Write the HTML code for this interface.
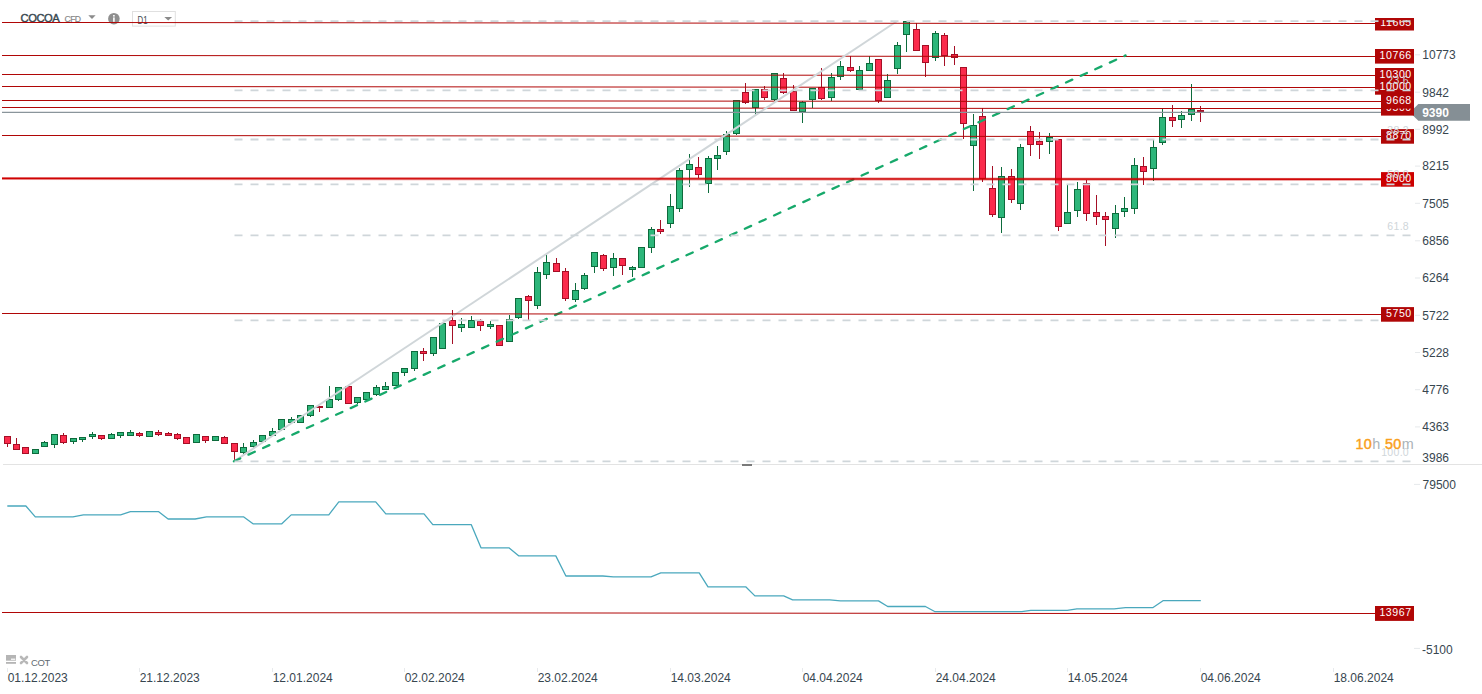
<!DOCTYPE html><html><head><meta charset="utf-8"><style>html,body{margin:0;padding:0;background:#fff;overflow:hidden}</style></head><body><svg width="1482" height="694" viewBox="0 0 1482 694" style="display:block;font-family:'Liberation Sans', sans-serif">
<defs><clipPath id="topclip"><rect x="0" y="20" width="1482" height="460"/></clipPath><clipPath id="boxclip"><rect x="0" y="18" width="1482" height="460"/></clipPath><linearGradient id="fo" gradientUnits="userSpaceOnUse" x1="88" y1="0" x2="1118" y2="0"><stop offset="0" stop-color="#b00606" stop-opacity="1"/><stop offset="1" stop-color="#b00606" stop-opacity="0"/></linearGradient><linearGradient id="fi" gradientUnits="userSpaceOnUse" x1="88" y1="0" x2="1118" y2="0"><stop offset="0" stop-color="#b00606" stop-opacity="0"/><stop offset="1" stop-color="#b00606" stop-opacity="1"/></linearGradient></defs>
<rect x="0" y="0" width="1482" height="694" fill="#ffffff"/>
<rect x="3" y="464" width="1479" height="1" fill="#e3e3e3"/>
<rect x="742" y="464" width="10" height="2" fill="#7a7a7a"/>
<rect x="7.0" y="444" width="1" height="3" fill="#a50f26"/>
<rect x="4.0" y="436" width="7" height="8" fill="#a50f26"/>
<rect x="5.0" y="437" width="5" height="6" fill="#fb2b4c"/>
<rect x="16.0" y="438" width="1" height="6" fill="#a50f26"/>
<rect x="13.0" y="444" width="7" height="6" fill="#a50f26"/>
<rect x="14.0" y="445" width="5" height="4" fill="#fb2b4c"/>
<rect x="22.0" y="447" width="7" height="7" fill="#a50f26"/>
<rect x="23.0" y="448" width="5" height="5" fill="#fb2b4c"/>
<rect x="32.0" y="449" width="7" height="5" fill="#0d6b3c"/>
<rect x="33.0" y="450" width="5" height="3" fill="#2db67a"/>
<rect x="44.0" y="441" width="1" height="1" fill="#0d6b3c"/>
<rect x="41.0" y="442" width="7" height="5" fill="#0d6b3c"/>
<rect x="42.0" y="443" width="5" height="3" fill="#2db67a"/>
<rect x="54.0" y="445" width="1" height="3" fill="#0d6b3c"/>
<rect x="51.0" y="434" width="7" height="11" fill="#0d6b3c"/>
<rect x="52.0" y="435" width="5" height="9" fill="#2db67a"/>
<rect x="63.0" y="433" width="1" height="2" fill="#a50f26"/>
<rect x="63.0" y="443" width="1" height="1" fill="#a50f26"/>
<rect x="60.0" y="435" width="7" height="8" fill="#a50f26"/>
<rect x="61.0" y="436" width="5" height="6" fill="#fb2b4c"/>
<rect x="73.0" y="442" width="1" height="2" fill="#0d6b3c"/>
<rect x="70.0" y="438" width="7" height="4" fill="#0d6b3c"/>
<rect x="71.0" y="439" width="5" height="2" fill="#2db67a"/>
<rect x="82.0" y="440" width="1" height="2" fill="#0d6b3c"/>
<rect x="79.0" y="437" width="7" height="3" fill="#0d6b3c"/>
<rect x="80.0" y="438" width="5" height="1" fill="#2db67a"/>
<rect x="92.0" y="432" width="1" height="2" fill="#0d6b3c"/>
<rect x="92.0" y="437" width="1" height="2" fill="#0d6b3c"/>
<rect x="89.0" y="434" width="7" height="3" fill="#0d6b3c"/>
<rect x="90.0" y="435" width="5" height="1" fill="#2db67a"/>
<rect x="101.0" y="439" width="1" height="1" fill="#a50f26"/>
<rect x="98.0" y="435" width="7" height="4" fill="#a50f26"/>
<rect x="99.0" y="436" width="5" height="2" fill="#fb2b4c"/>
<rect x="111.0" y="433" width="1" height="1" fill="#0d6b3c"/>
<rect x="108.0" y="434" width="7" height="5" fill="#0d6b3c"/>
<rect x="109.0" y="435" width="5" height="3" fill="#2db67a"/>
<rect x="120.0" y="436" width="1" height="2" fill="#0d6b3c"/>
<rect x="117.0" y="432" width="7" height="4" fill="#0d6b3c"/>
<rect x="118.0" y="433" width="5" height="2" fill="#2db67a"/>
<rect x="130.0" y="430" width="1" height="2" fill="#0d6b3c"/>
<rect x="127.0" y="432" width="7" height="4" fill="#0d6b3c"/>
<rect x="128.0" y="433" width="5" height="2" fill="#2db67a"/>
<rect x="139.0" y="432" width="1" height="1" fill="#a50f26"/>
<rect x="139.0" y="436" width="1" height="1" fill="#a50f26"/>
<rect x="136.0" y="433" width="7" height="3" fill="#a50f26"/>
<rect x="137.0" y="434" width="5" height="1" fill="#fb2b4c"/>
<rect x="146.0" y="431" width="7" height="6" fill="#0d6b3c"/>
<rect x="147.0" y="432" width="5" height="4" fill="#2db67a"/>
<rect x="158.0" y="430" width="1" height="2" fill="#a50f26"/>
<rect x="158.0" y="435" width="1" height="1" fill="#a50f26"/>
<rect x="155.0" y="432" width="7" height="3" fill="#a50f26"/>
<rect x="156.0" y="433" width="5" height="1" fill="#fb2b4c"/>
<rect x="168.0" y="432" width="1" height="1" fill="#a50f26"/>
<rect x="165.0" y="433" width="7" height="3" fill="#a50f26"/>
<rect x="166.0" y="434" width="5" height="1" fill="#fb2b4c"/>
<rect x="177.0" y="433" width="1" height="1" fill="#a50f26"/>
<rect x="177.0" y="439" width="1" height="1" fill="#a50f26"/>
<rect x="174.0" y="434" width="7" height="5" fill="#a50f26"/>
<rect x="175.0" y="435" width="5" height="3" fill="#fb2b4c"/>
<rect x="183.0" y="437" width="7" height="7" fill="#a50f26"/>
<rect x="184.0" y="438" width="5" height="5" fill="#fb2b4c"/>
<rect x="193.0" y="434" width="7" height="9" fill="#0d6b3c"/>
<rect x="194.0" y="435" width="5" height="7" fill="#2db67a"/>
<rect x="205.0" y="441" width="1" height="2" fill="#a50f26"/>
<rect x="202.0" y="436" width="7" height="5" fill="#a50f26"/>
<rect x="203.0" y="437" width="5" height="3" fill="#fb2b4c"/>
<rect x="212.0" y="436" width="7" height="5" fill="#0d6b3c"/>
<rect x="213.0" y="437" width="5" height="3" fill="#2db67a"/>
<rect x="224.0" y="436" width="1" height="1" fill="#a50f26"/>
<rect x="221.0" y="437" width="7" height="7" fill="#a50f26"/>
<rect x="222.0" y="438" width="5" height="5" fill="#fb2b4c"/>
<rect x="234.0" y="452" width="1" height="8" fill="#a50f26"/>
<rect x="231.0" y="443" width="7" height="9" fill="#a50f26"/>
<rect x="232.0" y="444" width="5" height="7" fill="#fb2b4c"/>
<rect x="243.0" y="443" width="1" height="4" fill="#0d6b3c"/>
<rect x="243.0" y="453" width="1" height="1" fill="#0d6b3c"/>
<rect x="240.0" y="447" width="7" height="6" fill="#0d6b3c"/>
<rect x="241.0" y="448" width="5" height="4" fill="#2db67a"/>
<rect x="253.0" y="440" width="1" height="2" fill="#0d6b3c"/>
<rect x="253.0" y="447" width="1" height="1" fill="#0d6b3c"/>
<rect x="250.0" y="442" width="7" height="5" fill="#0d6b3c"/>
<rect x="251.0" y="443" width="5" height="3" fill="#2db67a"/>
<rect x="259.0" y="435" width="7" height="7" fill="#0d6b3c"/>
<rect x="260.0" y="436" width="5" height="5" fill="#2db67a"/>
<rect x="272.0" y="428" width="1" height="3" fill="#0d6b3c"/>
<rect x="269.0" y="431" width="7" height="5" fill="#0d6b3c"/>
<rect x="270.0" y="432" width="5" height="3" fill="#2db67a"/>
<rect x="281.0" y="430" width="1" height="1" fill="#0d6b3c"/>
<rect x="278.0" y="419" width="7" height="11" fill="#0d6b3c"/>
<rect x="279.0" y="420" width="5" height="9" fill="#2db67a"/>
<rect x="291.0" y="417" width="1" height="2" fill="#0d6b3c"/>
<rect x="288.0" y="419" width="7" height="4" fill="#0d6b3c"/>
<rect x="289.0" y="420" width="5" height="2" fill="#2db67a"/>
<rect x="297.0" y="415" width="7" height="8" fill="#0d6b3c"/>
<rect x="298.0" y="416" width="5" height="6" fill="#2db67a"/>
<rect x="310.0" y="416" width="1" height="1" fill="#0d6b3c"/>
<rect x="307.0" y="405" width="7" height="11" fill="#0d6b3c"/>
<rect x="308.0" y="406" width="5" height="9" fill="#2db67a"/>
<rect x="319.0" y="408" width="1" height="4" fill="#a50f26"/>
<rect x="316.0" y="406" width="7" height="2" fill="#a50f26"/>
<rect x="329.0" y="386" width="1" height="13" fill="#0d6b3c"/>
<rect x="326.0" y="399" width="7" height="9" fill="#0d6b3c"/>
<rect x="327.0" y="400" width="5" height="7" fill="#2db67a"/>
<rect x="338.0" y="400" width="1" height="1" fill="#0d6b3c"/>
<rect x="335.0" y="387" width="7" height="13" fill="#0d6b3c"/>
<rect x="336.0" y="388" width="5" height="11" fill="#2db67a"/>
<rect x="345.0" y="386" width="7" height="18" fill="#a50f26"/>
<rect x="346.0" y="387" width="5" height="16" fill="#fb2b4c"/>
<rect x="357.0" y="403" width="1" height="1" fill="#0d6b3c"/>
<rect x="354.0" y="397" width="7" height="6" fill="#0d6b3c"/>
<rect x="355.0" y="398" width="5" height="4" fill="#2db67a"/>
<rect x="363.0" y="392" width="7" height="8" fill="#0d6b3c"/>
<rect x="364.0" y="393" width="5" height="6" fill="#2db67a"/>
<rect x="376.0" y="385" width="1" height="2" fill="#0d6b3c"/>
<rect x="376.0" y="395" width="1" height="1" fill="#0d6b3c"/>
<rect x="373.0" y="387" width="7" height="8" fill="#0d6b3c"/>
<rect x="374.0" y="388" width="5" height="6" fill="#2db67a"/>
<rect x="385.0" y="382" width="1" height="4" fill="#0d6b3c"/>
<rect x="382.0" y="386" width="7" height="4" fill="#0d6b3c"/>
<rect x="383.0" y="387" width="5" height="2" fill="#2db67a"/>
<rect x="392.0" y="372" width="7" height="14" fill="#0d6b3c"/>
<rect x="393.0" y="373" width="5" height="12" fill="#2db67a"/>
<rect x="404.0" y="373" width="1" height="3" fill="#0d6b3c"/>
<rect x="401.0" y="368" width="7" height="5" fill="#0d6b3c"/>
<rect x="402.0" y="369" width="5" height="3" fill="#2db67a"/>
<rect x="414.0" y="369" width="1" height="2" fill="#0d6b3c"/>
<rect x="411.0" y="351" width="7" height="18" fill="#0d6b3c"/>
<rect x="412.0" y="352" width="5" height="16" fill="#2db67a"/>
<rect x="423.0" y="348" width="1" height="3" fill="#a50f26"/>
<rect x="423.0" y="354" width="1" height="7" fill="#a50f26"/>
<rect x="420.0" y="351" width="7" height="3" fill="#a50f26"/>
<rect x="421.0" y="352" width="5" height="1" fill="#fb2b4c"/>
<rect x="433.0" y="354" width="1" height="2" fill="#0d6b3c"/>
<rect x="430.0" y="337" width="7" height="17" fill="#0d6b3c"/>
<rect x="431.0" y="338" width="5" height="15" fill="#2db67a"/>
<rect x="439.0" y="323" width="7" height="26" fill="#0d6b3c"/>
<rect x="440.0" y="324" width="5" height="24" fill="#2db67a"/>
<rect x="452.0" y="310" width="1" height="10" fill="#a50f26"/>
<rect x="452.0" y="326" width="1" height="18" fill="#a50f26"/>
<rect x="449.0" y="320" width="7" height="6" fill="#a50f26"/>
<rect x="450.0" y="321" width="5" height="4" fill="#fb2b4c"/>
<rect x="461.0" y="318" width="1" height="6" fill="#0d6b3c"/>
<rect x="461.0" y="328" width="1" height="4" fill="#0d6b3c"/>
<rect x="458.0" y="324" width="7" height="4" fill="#0d6b3c"/>
<rect x="459.0" y="325" width="5" height="2" fill="#2db67a"/>
<rect x="471.0" y="316" width="1" height="4" fill="#0d6b3c"/>
<rect x="468.0" y="320" width="7" height="8" fill="#0d6b3c"/>
<rect x="469.0" y="321" width="5" height="6" fill="#2db67a"/>
<rect x="480.0" y="319" width="1" height="2" fill="#a50f26"/>
<rect x="480.0" y="326" width="1" height="5" fill="#a50f26"/>
<rect x="477.0" y="321" width="7" height="5" fill="#a50f26"/>
<rect x="478.0" y="322" width="5" height="3" fill="#fb2b4c"/>
<rect x="490.0" y="321" width="1" height="3" fill="#0d6b3c"/>
<rect x="490.0" y="327" width="1" height="2" fill="#0d6b3c"/>
<rect x="487.0" y="324" width="7" height="3" fill="#0d6b3c"/>
<rect x="488.0" y="325" width="5" height="1" fill="#2db67a"/>
<rect x="496.0" y="325" width="7" height="21" fill="#a50f26"/>
<rect x="497.0" y="326" width="5" height="19" fill="#fb2b4c"/>
<rect x="509.0" y="315" width="1" height="4" fill="#0d6b3c"/>
<rect x="506.0" y="319" width="7" height="23" fill="#0d6b3c"/>
<rect x="507.0" y="320" width="5" height="21" fill="#2db67a"/>
<rect x="518.0" y="318" width="1" height="1" fill="#0d6b3c"/>
<rect x="515.0" y="298" width="7" height="20" fill="#0d6b3c"/>
<rect x="516.0" y="299" width="5" height="18" fill="#2db67a"/>
<rect x="528.0" y="295" width="1" height="1" fill="#a50f26"/>
<rect x="528.0" y="301" width="1" height="19" fill="#a50f26"/>
<rect x="525.0" y="296" width="7" height="5" fill="#a50f26"/>
<rect x="526.0" y="297" width="5" height="3" fill="#fb2b4c"/>
<rect x="537.0" y="267" width="1" height="5" fill="#0d6b3c"/>
<rect x="537.0" y="306" width="1" height="3" fill="#0d6b3c"/>
<rect x="534.0" y="272" width="7" height="34" fill="#0d6b3c"/>
<rect x="535.0" y="273" width="5" height="32" fill="#2db67a"/>
<rect x="546.0" y="255" width="1" height="7" fill="#0d6b3c"/>
<rect x="546.0" y="275" width="1" height="4" fill="#0d6b3c"/>
<rect x="543.0" y="262" width="7" height="13" fill="#0d6b3c"/>
<rect x="544.0" y="263" width="5" height="11" fill="#2db67a"/>
<rect x="556.0" y="258" width="1" height="5" fill="#a50f26"/>
<rect x="553.0" y="263" width="7" height="9" fill="#a50f26"/>
<rect x="554.0" y="264" width="5" height="7" fill="#fb2b4c"/>
<rect x="565.0" y="268" width="1" height="3" fill="#a50f26"/>
<rect x="565.0" y="299" width="1" height="2" fill="#a50f26"/>
<rect x="562.0" y="271" width="7" height="28" fill="#a50f26"/>
<rect x="563.0" y="272" width="5" height="26" fill="#fb2b4c"/>
<rect x="575.0" y="283" width="1" height="7" fill="#0d6b3c"/>
<rect x="575.0" y="300" width="1" height="2" fill="#0d6b3c"/>
<rect x="572.0" y="290" width="7" height="10" fill="#0d6b3c"/>
<rect x="573.0" y="291" width="5" height="8" fill="#2db67a"/>
<rect x="584.0" y="273" width="1" height="2" fill="#0d6b3c"/>
<rect x="584.0" y="289" width="1" height="1" fill="#0d6b3c"/>
<rect x="581.0" y="275" width="7" height="14" fill="#0d6b3c"/>
<rect x="582.0" y="276" width="5" height="12" fill="#2db67a"/>
<rect x="594.0" y="267" width="1" height="6" fill="#0d6b3c"/>
<rect x="591.0" y="252" width="7" height="15" fill="#0d6b3c"/>
<rect x="592.0" y="253" width="5" height="13" fill="#2db67a"/>
<rect x="603.0" y="254" width="1" height="1" fill="#a50f26"/>
<rect x="603.0" y="269" width="1" height="2" fill="#a50f26"/>
<rect x="600.0" y="255" width="7" height="14" fill="#a50f26"/>
<rect x="601.0" y="256" width="5" height="12" fill="#fb2b4c"/>
<rect x="613.0" y="253" width="1" height="5" fill="#0d6b3c"/>
<rect x="613.0" y="268" width="1" height="8" fill="#0d6b3c"/>
<rect x="610.0" y="258" width="7" height="10" fill="#0d6b3c"/>
<rect x="611.0" y="259" width="5" height="8" fill="#2db67a"/>
<rect x="622.0" y="266" width="1" height="9" fill="#a50f26"/>
<rect x="619.0" y="258" width="7" height="8" fill="#a50f26"/>
<rect x="620.0" y="259" width="5" height="6" fill="#fb2b4c"/>
<rect x="632.0" y="266" width="1" height="1" fill="#0d6b3c"/>
<rect x="632.0" y="270" width="1" height="7" fill="#0d6b3c"/>
<rect x="629.0" y="267" width="7" height="3" fill="#0d6b3c"/>
<rect x="630.0" y="268" width="5" height="1" fill="#2db67a"/>
<rect x="638.0" y="247" width="7" height="21" fill="#0d6b3c"/>
<rect x="639.0" y="248" width="5" height="19" fill="#2db67a"/>
<rect x="651.0" y="227" width="1" height="2" fill="#0d6b3c"/>
<rect x="651.0" y="248" width="1" height="5" fill="#0d6b3c"/>
<rect x="648.0" y="229" width="7" height="19" fill="#0d6b3c"/>
<rect x="649.0" y="230" width="5" height="17" fill="#2db67a"/>
<rect x="660.0" y="220" width="1" height="9" fill="#a50f26"/>
<rect x="660.0" y="232" width="1" height="2" fill="#a50f26"/>
<rect x="657.0" y="229" width="7" height="3" fill="#a50f26"/>
<rect x="658.0" y="230" width="5" height="1" fill="#fb2b4c"/>
<rect x="670.0" y="194" width="1" height="12" fill="#0d6b3c"/>
<rect x="670.0" y="224" width="1" height="4" fill="#0d6b3c"/>
<rect x="667.0" y="206" width="7" height="18" fill="#0d6b3c"/>
<rect x="668.0" y="207" width="5" height="16" fill="#2db67a"/>
<rect x="679.0" y="168" width="1" height="2" fill="#0d6b3c"/>
<rect x="679.0" y="209" width="1" height="3" fill="#0d6b3c"/>
<rect x="676.0" y="170" width="7" height="39" fill="#0d6b3c"/>
<rect x="677.0" y="171" width="5" height="37" fill="#2db67a"/>
<rect x="689.0" y="154" width="1" height="10" fill="#0d6b3c"/>
<rect x="689.0" y="170" width="1" height="17" fill="#0d6b3c"/>
<rect x="686.0" y="164" width="7" height="6" fill="#0d6b3c"/>
<rect x="687.0" y="165" width="5" height="4" fill="#2db67a"/>
<rect x="698.0" y="157" width="1" height="10" fill="#a50f26"/>
<rect x="698.0" y="175" width="1" height="3" fill="#a50f26"/>
<rect x="695.0" y="167" width="7" height="8" fill="#a50f26"/>
<rect x="696.0" y="168" width="5" height="6" fill="#fb2b4c"/>
<rect x="708.0" y="156" width="1" height="2" fill="#0d6b3c"/>
<rect x="708.0" y="184" width="1" height="9" fill="#0d6b3c"/>
<rect x="705.0" y="158" width="7" height="26" fill="#0d6b3c"/>
<rect x="706.0" y="159" width="5" height="24" fill="#2db67a"/>
<rect x="717.0" y="146" width="1" height="9" fill="#0d6b3c"/>
<rect x="717.0" y="159" width="1" height="11" fill="#0d6b3c"/>
<rect x="714.0" y="155" width="7" height="4" fill="#0d6b3c"/>
<rect x="715.0" y="156" width="5" height="2" fill="#2db67a"/>
<rect x="726.0" y="131" width="1" height="3" fill="#0d6b3c"/>
<rect x="726.0" y="152" width="1" height="3" fill="#0d6b3c"/>
<rect x="723.0" y="134" width="7" height="18" fill="#0d6b3c"/>
<rect x="724.0" y="135" width="5" height="16" fill="#2db67a"/>
<rect x="736.0" y="134" width="1" height="1" fill="#0d6b3c"/>
<rect x="733.0" y="100" width="7" height="34" fill="#0d6b3c"/>
<rect x="734.0" y="101" width="5" height="32" fill="#2db67a"/>
<rect x="745.0" y="83" width="1" height="9" fill="#a50f26"/>
<rect x="745.0" y="103" width="1" height="1" fill="#a50f26"/>
<rect x="742.0" y="92" width="7" height="11" fill="#a50f26"/>
<rect x="743.0" y="93" width="5" height="9" fill="#fb2b4c"/>
<rect x="755.0" y="108" width="1" height="7" fill="#0d6b3c"/>
<rect x="752.0" y="89" width="7" height="19" fill="#0d6b3c"/>
<rect x="753.0" y="90" width="5" height="17" fill="#2db67a"/>
<rect x="764.0" y="86" width="1" height="3" fill="#a50f26"/>
<rect x="764.0" y="98" width="1" height="2" fill="#a50f26"/>
<rect x="761.0" y="89" width="7" height="9" fill="#a50f26"/>
<rect x="762.0" y="90" width="5" height="7" fill="#fb2b4c"/>
<rect x="774.0" y="100" width="1" height="1" fill="#0d6b3c"/>
<rect x="771.0" y="73" width="7" height="27" fill="#0d6b3c"/>
<rect x="772.0" y="74" width="5" height="25" fill="#2db67a"/>
<rect x="783.0" y="73" width="1" height="5" fill="#a50f26"/>
<rect x="783.0" y="93" width="1" height="1" fill="#a50f26"/>
<rect x="780.0" y="78" width="7" height="15" fill="#a50f26"/>
<rect x="781.0" y="79" width="5" height="13" fill="#fb2b4c"/>
<rect x="793.0" y="85" width="1" height="6" fill="#a50f26"/>
<rect x="790.0" y="91" width="7" height="20" fill="#a50f26"/>
<rect x="791.0" y="92" width="5" height="18" fill="#fb2b4c"/>
<rect x="802.0" y="101" width="1" height="1" fill="#0d6b3c"/>
<rect x="802.0" y="112" width="1" height="11" fill="#0d6b3c"/>
<rect x="799.0" y="102" width="7" height="10" fill="#0d6b3c"/>
<rect x="800.0" y="103" width="5" height="8" fill="#2db67a"/>
<rect x="812.0" y="100" width="1" height="8" fill="#0d6b3c"/>
<rect x="809.0" y="88" width="7" height="12" fill="#0d6b3c"/>
<rect x="810.0" y="89" width="5" height="10" fill="#2db67a"/>
<rect x="821.0" y="68" width="1" height="19" fill="#a50f26"/>
<rect x="821.0" y="99" width="1" height="1" fill="#a50f26"/>
<rect x="818.0" y="87" width="7" height="12" fill="#a50f26"/>
<rect x="819.0" y="88" width="5" height="10" fill="#fb2b4c"/>
<rect x="831.0" y="73" width="1" height="4" fill="#0d6b3c"/>
<rect x="831.0" y="98" width="1" height="3" fill="#0d6b3c"/>
<rect x="828.0" y="77" width="7" height="21" fill="#0d6b3c"/>
<rect x="829.0" y="78" width="5" height="19" fill="#2db67a"/>
<rect x="840.0" y="61" width="1" height="5" fill="#0d6b3c"/>
<rect x="840.0" y="77" width="1" height="3" fill="#0d6b3c"/>
<rect x="837.0" y="66" width="7" height="11" fill="#0d6b3c"/>
<rect x="838.0" y="67" width="5" height="9" fill="#2db67a"/>
<rect x="850.0" y="56" width="1" height="11" fill="#a50f26"/>
<rect x="850.0" y="71" width="1" height="1" fill="#a50f26"/>
<rect x="847.0" y="67" width="7" height="4" fill="#a50f26"/>
<rect x="848.0" y="68" width="5" height="2" fill="#fb2b4c"/>
<rect x="859.0" y="66" width="1" height="4" fill="#0d6b3c"/>
<rect x="856.0" y="70" width="7" height="20" fill="#0d6b3c"/>
<rect x="857.0" y="71" width="5" height="18" fill="#2db67a"/>
<rect x="869.0" y="56" width="1" height="7" fill="#0d6b3c"/>
<rect x="866.0" y="63" width="7" height="8" fill="#0d6b3c"/>
<rect x="867.0" y="64" width="5" height="6" fill="#2db67a"/>
<rect x="878.0" y="101" width="1" height="2" fill="#a50f26"/>
<rect x="875.0" y="59" width="7" height="42" fill="#a50f26"/>
<rect x="876.0" y="60" width="5" height="40" fill="#fb2b4c"/>
<rect x="887.0" y="74" width="1" height="6" fill="#0d6b3c"/>
<rect x="884.0" y="80" width="7" height="18" fill="#0d6b3c"/>
<rect x="885.0" y="81" width="5" height="16" fill="#2db67a"/>
<rect x="897.0" y="42" width="1" height="3" fill="#0d6b3c"/>
<rect x="897.0" y="69" width="1" height="5" fill="#0d6b3c"/>
<rect x="894.0" y="45" width="7" height="24" fill="#0d6b3c"/>
<rect x="895.0" y="46" width="5" height="22" fill="#2db67a"/>
<rect x="906.0" y="35" width="1" height="17" fill="#0d6b3c"/>
<rect x="903.0" y="21" width="7" height="14" fill="#0d6b3c"/>
<rect x="904.0" y="22" width="5" height="12" fill="#2db67a"/>
<rect x="916.0" y="23" width="1" height="6" fill="#a50f26"/>
<rect x="913.0" y="29" width="7" height="22" fill="#a50f26"/>
<rect x="914.0" y="30" width="5" height="20" fill="#fb2b4c"/>
<rect x="925.0" y="63" width="1" height="14" fill="#a50f26"/>
<rect x="922.0" y="45" width="7" height="18" fill="#a50f26"/>
<rect x="923.0" y="46" width="5" height="16" fill="#fb2b4c"/>
<rect x="935.0" y="31" width="1" height="2" fill="#0d6b3c"/>
<rect x="935.0" y="58" width="1" height="3" fill="#0d6b3c"/>
<rect x="932.0" y="33" width="7" height="25" fill="#0d6b3c"/>
<rect x="933.0" y="34" width="5" height="23" fill="#2db67a"/>
<rect x="944.0" y="33" width="1" height="2" fill="#a50f26"/>
<rect x="944.0" y="56" width="1" height="10" fill="#a50f26"/>
<rect x="941.0" y="35" width="7" height="21" fill="#a50f26"/>
<rect x="942.0" y="36" width="5" height="19" fill="#fb2b4c"/>
<rect x="954.0" y="46" width="1" height="8" fill="#a50f26"/>
<rect x="954.0" y="58" width="1" height="7" fill="#a50f26"/>
<rect x="951.0" y="54" width="7" height="4" fill="#a50f26"/>
<rect x="952.0" y="55" width="5" height="2" fill="#fb2b4c"/>
<rect x="963.0" y="124" width="1" height="15" fill="#a50f26"/>
<rect x="960.0" y="67" width="7" height="57" fill="#a50f26"/>
<rect x="961.0" y="68" width="5" height="55" fill="#fb2b4c"/>
<rect x="973.0" y="114" width="1" height="11" fill="#0d6b3c"/>
<rect x="973.0" y="146" width="1" height="45" fill="#0d6b3c"/>
<rect x="970.0" y="125" width="7" height="21" fill="#0d6b3c"/>
<rect x="971.0" y="126" width="5" height="19" fill="#2db67a"/>
<rect x="982.0" y="108" width="1" height="8" fill="#a50f26"/>
<rect x="982.0" y="179" width="1" height="3" fill="#a50f26"/>
<rect x="979.0" y="116" width="7" height="63" fill="#a50f26"/>
<rect x="980.0" y="117" width="5" height="61" fill="#fb2b4c"/>
<rect x="992.0" y="166" width="1" height="22" fill="#a50f26"/>
<rect x="992.0" y="215" width="1" height="2" fill="#a50f26"/>
<rect x="989.0" y="188" width="7" height="27" fill="#a50f26"/>
<rect x="990.0" y="189" width="5" height="25" fill="#fb2b4c"/>
<rect x="1001.0" y="167" width="1" height="9" fill="#0d6b3c"/>
<rect x="1001.0" y="218" width="1" height="15" fill="#0d6b3c"/>
<rect x="998.0" y="176" width="7" height="42" fill="#0d6b3c"/>
<rect x="999.0" y="177" width="5" height="40" fill="#2db67a"/>
<rect x="1011.0" y="169" width="1" height="7" fill="#a50f26"/>
<rect x="1011.0" y="200" width="1" height="3" fill="#a50f26"/>
<rect x="1008.0" y="176" width="7" height="24" fill="#a50f26"/>
<rect x="1009.0" y="177" width="5" height="22" fill="#fb2b4c"/>
<rect x="1020.0" y="144" width="1" height="3" fill="#0d6b3c"/>
<rect x="1020.0" y="204" width="1" height="6" fill="#0d6b3c"/>
<rect x="1017.0" y="147" width="7" height="57" fill="#0d6b3c"/>
<rect x="1018.0" y="148" width="5" height="55" fill="#2db67a"/>
<rect x="1030.0" y="126" width="1" height="5" fill="#a50f26"/>
<rect x="1030.0" y="145" width="1" height="11" fill="#a50f26"/>
<rect x="1027.0" y="131" width="7" height="14" fill="#a50f26"/>
<rect x="1028.0" y="132" width="5" height="12" fill="#fb2b4c"/>
<rect x="1039.0" y="132" width="1" height="9" fill="#a50f26"/>
<rect x="1039.0" y="145" width="1" height="14" fill="#a50f26"/>
<rect x="1036.0" y="141" width="7" height="4" fill="#a50f26"/>
<rect x="1037.0" y="142" width="5" height="2" fill="#fb2b4c"/>
<rect x="1049.0" y="133" width="1" height="4" fill="#0d6b3c"/>
<rect x="1049.0" y="142" width="1" height="12" fill="#0d6b3c"/>
<rect x="1046.0" y="137" width="7" height="5" fill="#0d6b3c"/>
<rect x="1047.0" y="138" width="5" height="3" fill="#2db67a"/>
<rect x="1058.0" y="227" width="1" height="4" fill="#a50f26"/>
<rect x="1055.0" y="139" width="7" height="88" fill="#a50f26"/>
<rect x="1056.0" y="140" width="5" height="86" fill="#fb2b4c"/>
<rect x="1067.0" y="185" width="1" height="27" fill="#0d6b3c"/>
<rect x="1064.0" y="212" width="7" height="12" fill="#0d6b3c"/>
<rect x="1065.0" y="213" width="5" height="10" fill="#2db67a"/>
<rect x="1077.0" y="182" width="1" height="7" fill="#0d6b3c"/>
<rect x="1077.0" y="211" width="1" height="6" fill="#0d6b3c"/>
<rect x="1074.0" y="189" width="7" height="22" fill="#0d6b3c"/>
<rect x="1075.0" y="190" width="5" height="20" fill="#2db67a"/>
<rect x="1086.0" y="180" width="1" height="3" fill="#a50f26"/>
<rect x="1086.0" y="214" width="1" height="7" fill="#a50f26"/>
<rect x="1083.0" y="183" width="7" height="31" fill="#a50f26"/>
<rect x="1084.0" y="184" width="5" height="29" fill="#fb2b4c"/>
<rect x="1096.0" y="195" width="1" height="17" fill="#a50f26"/>
<rect x="1096.0" y="217" width="1" height="8" fill="#a50f26"/>
<rect x="1093.0" y="212" width="7" height="5" fill="#a50f26"/>
<rect x="1094.0" y="213" width="5" height="3" fill="#fb2b4c"/>
<rect x="1105.0" y="212" width="1" height="4" fill="#a50f26"/>
<rect x="1105.0" y="220" width="1" height="26" fill="#a50f26"/>
<rect x="1102.0" y="216" width="7" height="4" fill="#a50f26"/>
<rect x="1103.0" y="217" width="5" height="2" fill="#fb2b4c"/>
<rect x="1115.0" y="205" width="1" height="8" fill="#0d6b3c"/>
<rect x="1115.0" y="229" width="1" height="9" fill="#0d6b3c"/>
<rect x="1112.0" y="213" width="7" height="16" fill="#0d6b3c"/>
<rect x="1113.0" y="214" width="5" height="14" fill="#2db67a"/>
<rect x="1124.0" y="197" width="1" height="11" fill="#0d6b3c"/>
<rect x="1124.0" y="212" width="1" height="5" fill="#0d6b3c"/>
<rect x="1121.0" y="208" width="7" height="4" fill="#0d6b3c"/>
<rect x="1122.0" y="209" width="5" height="2" fill="#2db67a"/>
<rect x="1134.0" y="158" width="1" height="7" fill="#0d6b3c"/>
<rect x="1134.0" y="209" width="1" height="5" fill="#0d6b3c"/>
<rect x="1131.0" y="165" width="7" height="44" fill="#0d6b3c"/>
<rect x="1132.0" y="166" width="5" height="42" fill="#2db67a"/>
<rect x="1143.0" y="157" width="1" height="9" fill="#a50f26"/>
<rect x="1143.0" y="172" width="1" height="13" fill="#a50f26"/>
<rect x="1140.0" y="166" width="7" height="6" fill="#a50f26"/>
<rect x="1141.0" y="167" width="5" height="4" fill="#fb2b4c"/>
<rect x="1153.0" y="140" width="1" height="7" fill="#0d6b3c"/>
<rect x="1153.0" y="169" width="1" height="12" fill="#0d6b3c"/>
<rect x="1150.0" y="147" width="7" height="22" fill="#0d6b3c"/>
<rect x="1151.0" y="148" width="5" height="20" fill="#2db67a"/>
<rect x="1162.0" y="109" width="1" height="8" fill="#0d6b3c"/>
<rect x="1162.0" y="143" width="1" height="2" fill="#0d6b3c"/>
<rect x="1159.0" y="117" width="7" height="26" fill="#0d6b3c"/>
<rect x="1160.0" y="118" width="5" height="24" fill="#2db67a"/>
<rect x="1172.0" y="105" width="1" height="12" fill="#a50f26"/>
<rect x="1172.0" y="121" width="1" height="6" fill="#a50f26"/>
<rect x="1169.0" y="117" width="7" height="4" fill="#a50f26"/>
<rect x="1170.0" y="118" width="5" height="2" fill="#fb2b4c"/>
<rect x="1181.0" y="111" width="1" height="4" fill="#0d6b3c"/>
<rect x="1181.0" y="120" width="1" height="8" fill="#0d6b3c"/>
<rect x="1178.0" y="115" width="7" height="5" fill="#0d6b3c"/>
<rect x="1179.0" y="116" width="5" height="3" fill="#2db67a"/>
<rect x="1191.0" y="84" width="1" height="25" fill="#0d6b3c"/>
<rect x="1191.0" y="115" width="1" height="6" fill="#0d6b3c"/>
<rect x="1188.0" y="109" width="7" height="6" fill="#0d6b3c"/>
<rect x="1189.0" y="110" width="5" height="4" fill="#2db67a"/>
<rect x="1200.0" y="106" width="1" height="4" fill="#a50f26"/>
<rect x="1200.0" y="112" width="1" height="10" fill="#a50f26"/>
<rect x="1197.0" y="110" width="7" height="2" fill="#a50f26"/>
<rect x="2" y="55" width="86" height="1" fill="#b00606"/><rect x="88" y="55" width="1030" height="1" fill="url(#fo)"/><rect x="88" y="56" width="1030" height="1" fill="url(#fi)"/><rect x="1118" y="56" width="257" height="1" fill="#b00606"/>
<rect x="2" y="74" width="86" height="1" fill="#b00606"/><rect x="88" y="74" width="1030" height="1" fill="url(#fo)"/><rect x="88" y="75" width="1030" height="1" fill="url(#fi)"/><rect x="1118" y="75" width="257" height="1" fill="#b00606"/>
<rect x="2" y="86" width="86" height="1" fill="#b00606"/><rect x="88" y="86" width="1030" height="1" fill="url(#fo)"/><rect x="88" y="87" width="1030" height="1" fill="url(#fi)"/><rect x="1118" y="87" width="257" height="1" fill="#b00606"/>
<rect x="2" y="100" width="86" height="1" fill="#b00606"/><rect x="88" y="100" width="1030" height="1" fill="url(#fo)"/><rect x="88" y="101" width="1030" height="1" fill="url(#fi)"/><rect x="1118" y="101" width="263" height="1" fill="#b00606"/>
<rect x="2" y="107" width="86" height="1" fill="#b00606"/><rect x="88" y="107" width="1030" height="1" fill="url(#fo)"/><rect x="88" y="108" width="1030" height="1" fill="url(#fi)"/><rect x="1118" y="108" width="263" height="1" fill="#b00606"/>
<rect x="2" y="135" width="86" height="1" fill="#b00606"/><rect x="88" y="135" width="1030" height="1" fill="url(#fo)"/><rect x="88" y="136" width="1030" height="1" fill="url(#fi)"/><rect x="1118" y="136" width="263" height="1" fill="#b00606"/>
<line x1="234" y1="461.4" x2="896.5" y2="21.5" stroke="#d0d6d9" stroke-width="2"/><line x1="233.9" y1="461.3" x2="1125.6" y2="55.4" stroke="#17a96b" stroke-width="2.3" stroke-linecap="round" stroke-dasharray="6.9 9.14"/>
<line x1="2" y1="112.4" x2="1414" y2="112.4" stroke="#8a959b" stroke-width="1.2"/>
<path d="M1410 112.45 L1418.3 104.1 L1470 104.1 L1470 120.8 L1418.3 120.8 Z" fill="#858f95"/>
<text x="1422.2" y="116.9" font-size="12" font-weight="bold" fill="#ffffff">9390</text>
<g clip-path="url(#boxclip)"><rect x="1375" y="15.9" width="39" height="14.6" fill="#b00606"/><text clip-path="url(#topclip)" x="1411.8" y="26.1" text-anchor="end" font-size="10.6" letter-spacing="0.55" fill="#ffffff">11665</text></g>
<g><rect x="1375" y="49.0" width="39" height="14.6" fill="#b00606"/><text x="1411.8" y="59.2" text-anchor="end" font-size="10.6" letter-spacing="0.55" fill="#ffffff">10766</text></g>
<g><rect x="1375" y="68.0" width="39" height="14.6" fill="#b00606"/><text x="1411.8" y="78.2" text-anchor="end" font-size="10.6" letter-spacing="0.55" fill="#ffffff">10300</text></g>
<g><rect x="1375" y="80.1" width="39" height="14.6" fill="#b00606"/><text x="1411.8" y="90.3" text-anchor="end" font-size="10.6" letter-spacing="0.55" fill="#ffffff">10000</text></g>
<g><rect x="1381" y="101.0" width="33" height="14.6" fill="#b00606"/><text x="1411.8" y="111.2" text-anchor="end" font-size="10.6" letter-spacing="0.55" fill="#ffffff">9500</text></g>
<g><rect x="1381" y="94.0" width="33" height="14.6" fill="#b00606"/><text x="1411.8" y="104.2" text-anchor="end" font-size="10.6" letter-spacing="0.55" fill="#ffffff">9668</text></g>
<g><rect x="1381" y="129.1" width="33" height="14.6" fill="#b00606"/><text x="1411.8" y="139.3" text-anchor="end" font-size="10.6" letter-spacing="0.55" fill="#ffffff">8870</text></g>
<linearGradient id="g177_60_0" gradientUnits="userSpaceOnUse" x1="2" y1="0" x2="1381" y2="0"><stop offset="0" stop-color="#cf0000" stop-opacity="0.6"/><stop offset="1" stop-color="#cf0000" stop-opacity="0.0"/></linearGradient><rect x="2" y="177" width="1379" height="1" fill="url(#g177_60_0)"/><linearGradient id="g178_100_75" gradientUnits="userSpaceOnUse" x1="2" y1="0" x2="1381" y2="0"><stop offset="0" stop-color="#cf0000" stop-opacity="1.0"/><stop offset="1" stop-color="#cf0000" stop-opacity="0.75"/></linearGradient><rect x="2" y="178" width="1379" height="1" fill="url(#g178_100_75)"/><linearGradient id="g179_45_100" gradientUnits="userSpaceOnUse" x1="2" y1="0" x2="1381" y2="0"><stop offset="0" stop-color="#cf0000" stop-opacity="0.45"/><stop offset="1" stop-color="#cf0000" stop-opacity="1.0"/></linearGradient><rect x="2" y="179" width="1379" height="1" fill="url(#g179_45_100)"/><linearGradient id="g180_0_35" gradientUnits="userSpaceOnUse" x1="2" y1="0" x2="1381" y2="0"><stop offset="0" stop-color="#cf0000" stop-opacity="0.0"/><stop offset="1" stop-color="#cf0000" stop-opacity="0.35"/></linearGradient><rect x="2" y="180" width="1379" height="1" fill="url(#g180_0_35)"/>
<g><rect x="1381" y="172.1" width="33" height="14.6" fill="#cc0000"/><text x="1411.8" y="182.3" text-anchor="end" font-size="10.6" letter-spacing="0.55" fill="#ffffff">8000</text></g>
<rect x="1381" y="94" width="33" height="21.7" fill="#b00606" opacity="0"/>
<line x1="234.5" y1="21.2" x2="1411" y2="21.2" stroke="#cfd6da" stroke-width="1.8" stroke-dasharray="8 8"/>
<line x1="234.5" y1="90.3" x2="1411" y2="90.3" stroke="#cfd6da" stroke-width="1.8" stroke-dasharray="8 8"/>
<line x1="234.5" y1="139.5" x2="1411" y2="139.5" stroke="#cfd6da" stroke-width="1.8" stroke-dasharray="8 8"/>
<line x1="234.5" y1="184.4" x2="1411" y2="184.4" stroke="#cfd6da" stroke-width="1.8" stroke-dasharray="8 8"/>
<line x1="234.5" y1="235.3" x2="1411" y2="235.3" stroke="#cfd6da" stroke-width="1.8" stroke-dasharray="8 8"/>
<line x1="234.5" y1="320.3" x2="1411" y2="320.3" stroke="#cfd6da" stroke-width="1.8" stroke-dasharray="8 8"/>
<line x1="234.5" y1="461.3" x2="1411" y2="461.3" stroke="#cfd6da" stroke-width="1.8" stroke-dasharray="8 8"/>
<text x="1409" y="83.8" text-anchor="end" font-size="10.5" letter-spacing="0.3" fill="#cfd6da">23.6</text>
<text x="1409" y="134.3" text-anchor="end" font-size="10.5" letter-spacing="0.3" fill="#cfd6da">38.2</text>
<text x="1409" y="177.6" text-anchor="end" font-size="10.5" letter-spacing="0.3" fill="#cfd6da">50.0</text>
<text x="1409" y="230.4" text-anchor="end" font-size="10.5" letter-spacing="0.3" fill="#cfd6da">61.8</text>
<text x="1409" y="456.1" text-anchor="end" font-size="10.5" letter-spacing="0.3" fill="#cfd6da">100.0</text>
<rect x="2" y="313" width="86" height="1" fill="#b00606"/><rect x="88" y="313" width="1030" height="1" fill="url(#fo)"/><rect x="88" y="314" width="1030" height="1" fill="url(#fi)"/><rect x="1118" y="314" width="263" height="1" fill="#b00606"/>
<g><rect x="1381" y="307.1" width="33" height="14.6" fill="#b00606"/><text x="1411.8" y="317.3" text-anchor="end" font-size="10.6" letter-spacing="0.55" fill="#ffffff">5750</text></g>
<rect x="1415" y="54.3" width="5" height="1" fill="#e6e9eb"/>
<text x="1422.3" y="59.1" font-size="12" fill="#37464f">10773</text>
<rect x="1415" y="91.7" width="5" height="1" fill="#e6e9eb"/>
<text x="1422.3" y="96.5" font-size="12" fill="#37464f">9842</text>
<rect x="1415" y="128.8" width="5" height="1" fill="#e6e9eb"/>
<text x="1422.3" y="133.6" font-size="12" fill="#37464f">8992</text>
<rect x="1415" y="165.6" width="5" height="1" fill="#e6e9eb"/>
<text x="1422.3" y="170.4" font-size="12" fill="#37464f">8215</text>
<rect x="1415" y="202.8" width="5" height="1" fill="#e6e9eb"/>
<text x="1422.3" y="207.6" font-size="12" fill="#37464f">7505</text>
<rect x="1415" y="240.3" width="5" height="1" fill="#e6e9eb"/>
<text x="1422.3" y="245.1" font-size="12" fill="#37464f">6856</text>
<rect x="1415" y="277.5" width="5" height="1" fill="#e6e9eb"/>
<text x="1422.3" y="282.3" font-size="12" fill="#37464f">6264</text>
<rect x="1415" y="314.8" width="5" height="1" fill="#e6e9eb"/>
<text x="1422.3" y="319.6" font-size="12" fill="#37464f">5722</text>
<rect x="1415" y="352.0" width="5" height="1" fill="#e6e9eb"/>
<text x="1422.3" y="356.8" font-size="12" fill="#37464f">5228</text>
<rect x="1415" y="389.2" width="5" height="1" fill="#e6e9eb"/>
<text x="1422.3" y="394.0" font-size="12" fill="#37464f">4776</text>
<rect x="1415" y="426.4" width="5" height="1" fill="#e6e9eb"/>
<text x="1422.3" y="431.2" font-size="12" fill="#37464f">4363</text>
<text x="1422.3" y="461.9" font-size="12" fill="#37464f">3986</text>
<text x="1355.5" y="449" font-size="14.4" letter-spacing="0.35" fill="#f9a020"><tspan stroke="#f9a020" stroke-width="0.45">10</tspan><tspan fill="#aab2b7">h </tspan><tspan stroke="#f9a020" stroke-width="0.45">50</tspan><tspan fill="#aab2b7">m</tspan></text>
<rect x="2" y="612" width="86" height="1" fill="#b00606"/><rect x="88" y="612" width="1030" height="1" fill="url(#fo)"/><rect x="88" y="613" width="1030" height="1" fill="url(#fi)"/><rect x="1118" y="613" width="257" height="1" fill="#b00606"/>
<polyline points="7.3,506 25.9,506 35.3,516.9 72.9,516.9 83.4,514.9 120.6,514.9 130.4,511.7 158.7,511.7 168.1,519 195.1,519 206.5,516.9 243.8,516.9 253,523.8 281.8,523.8 291.2,514.9 328.8,514.9 338.8,501.8 375.7,501.8 385.8,513.8 424,513.8 432.8,524.6 471.2,524.6 481,547.8 508.9,547.8 518.9,555.9 555.8,555.9 565.9,576 602.8,576 613.3,576.9 651,576.9 660.8,572.9 699.2,572.9 708,586.8 745.7,586.8 754.9,595.9 783.7,595.9 792.6,599.9 829.9,599.9 840.4,600.9 878.5,600.9 887.7,606.5 925.4,606.5 935.1,611.7 1021.8,611.7 1030.7,610.4 1067.2,610.4 1076.9,608.8 1114.1,608.8 1125.5,607.7 1152.7,607.7 1163,600.7 1200.8,600.7" fill="none" stroke="#4aa8bd" stroke-width="1.3" stroke-linejoin="round"/>
<rect x="1375" y="606" width="39" height="14.9" fill="#b00606"/>
<text x="1411.6" y="616.2" text-anchor="end" font-size="10.6" letter-spacing="0.55" fill="#ffffff">13967</text>
<rect x="1414" y="483.9" width="6" height="1" fill="#e6e9eb"/>
<rect x="1414" y="647.9" width="6" height="1" fill="#e6e9eb"/>
<text x="1422.6" y="488.9" font-size="12" fill="#37464f">79500</text>
<text x="1422" y="654" font-size="12" fill="#37464f">-5100</text>
<rect x="6" y="655" width="10" height="5.7" fill="#b5b5b5"/>
<rect x="11" y="658.6" width="4.3" height="1.2" fill="#ffffff"/>
<rect x="6" y="662" width="10" height="1.8" fill="#b5b5b5"/>
<path d="M21 657 L27 663 M27 657 L21 663" stroke="#b8b8b8" stroke-width="2.6" stroke-linecap="round"/>
<text x="31" y="665.9" font-size="9.5" letter-spacing="-0.4" fill="#5f6a70">COT</text>
<rect x="7.0" y="668" width="1" height="4" fill="#e8eaec"/>
<text x="7.7" y="682" font-size="12" fill="#37464f">01.12.2023</text>
<rect x="139.0" y="668" width="1" height="4" fill="#e8eaec"/>
<text x="139.7" y="682" font-size="12" fill="#37464f">21.12.2023</text>
<rect x="272.0" y="668" width="1" height="4" fill="#e8eaec"/>
<text x="272.7" y="682" font-size="12" fill="#37464f">12.01.2024</text>
<rect x="404.0" y="668" width="1" height="4" fill="#e8eaec"/>
<text x="404.7" y="682" font-size="12" fill="#37464f">02.02.2024</text>
<rect x="537.0" y="668" width="1" height="4" fill="#e8eaec"/>
<text x="537.7" y="682" font-size="12" fill="#37464f">23.02.2024</text>
<rect x="670.0" y="668" width="1" height="4" fill="#e8eaec"/>
<text x="670.7" y="682" font-size="12" fill="#37464f">14.03.2024</text>
<rect x="802.0" y="668" width="1" height="4" fill="#e8eaec"/>
<text x="802.7" y="682" font-size="12" fill="#37464f">04.04.2024</text>
<rect x="935.0" y="668" width="1" height="4" fill="#e8eaec"/>
<text x="935.7" y="682" font-size="12" fill="#37464f">24.04.2024</text>
<rect x="1067.0" y="668" width="1" height="4" fill="#e8eaec"/>
<text x="1067.7" y="682" font-size="12" fill="#37464f">14.05.2024</text>
<rect x="1200.0" y="668" width="1" height="4" fill="#e8eaec"/>
<text x="1200.7" y="682" font-size="12" fill="#37464f">04.06.2024</text>
<rect x="1333.0" y="668" width="1" height="4" fill="#e8eaec"/>
<text x="1333.7" y="682" font-size="12" fill="#37464f">18.06.2024</text>
<text x="20.6" y="22.2" font-size="11.2" letter-spacing="-0.5" stroke="#37474f" stroke-width="0.4" fill="#37474f">COCOA</text>
<text x="64.6" y="22" font-size="8.7" letter-spacing="-0.65" stroke="#858585" stroke-width="0.15" fill="#858585">CFD</text>
<path d="M88.3 15.3 L95.6 15.3 L92 19 Z" fill="#8b8b8b"/>
<circle cx="113.9" cy="18.7" r="5.8" fill="#8f8f8f"/>
<rect x="113.1" y="17.4" width="1.6" height="4.4" fill="#ffffff"/><rect x="113.1" y="15" width="1.6" height="1.6" fill="#ffffff"/>
<rect x="132.5" y="11.5" width="42.8" height="14.6" fill="none" stroke="#e0e0e0" stroke-width="1"/>
<text x="137.5" y="23.8" font-size="10" textLength="10" lengthAdjust="spacingAndGlyphs" fill="#3f4b52">D1</text>
<path d="M164.3 17.1 L172.1 17.1 L168.2 20.6 Z" fill="#8b8b8b"/>
<rect x="2" y="22" width="86" height="1" fill="#b00606"/><rect x="88" y="22" width="1030" height="1" fill="url(#fo)"/><rect x="88" y="23" width="1030" height="1" fill="url(#fi)"/><rect x="1118" y="23" width="257" height="1" fill="#b00606"/>
</svg></body></html>
